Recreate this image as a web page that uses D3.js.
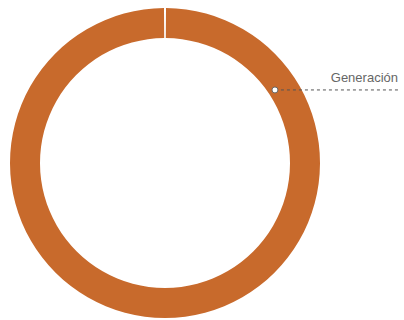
<!DOCTYPE html>
<html>
<head>
<meta charset="utf-8">
<script src="https://cdn.jsdelivr.net/npm/d3@7"></script>
<style>
  body { margin: 0; background: #fff; }
  svg { display: block; }
</style>
</head>
<body>
<svg></svg>
<script>
var width = 404, height = 320;

// data
var categories = ["Generación"];
var values = [100];
var colors = ["#c86a2c"];

var cx = 165, cy = 163;
var outerR = 155, innerR = 125;
var gap = 0.013;

var svg = d3.select("svg")
    .attr("width", width)
    .attr("height", height);

var g = svg.append("g")
    .attr("transform", "translate(" + cx + "," + cy + ")");

// leave a thin gap where the ring starts and ends
var pie = d3.pie().sort(null)
    .startAngle(gap / 2)
    .endAngle(2 * Math.PI - gap / 2);
var arc = d3.arc().innerRadius(innerR).outerRadius(outerR);

var arcs = pie(values);

g.selectAll(".slice")
    .data(arcs)
    .enter().append("path")
    .attr("class", "slice")
    .attr("d", arc)
    .attr("fill", function(d, i) { return colors[i]; });

// label with leader line
var labelAngle = 56.4 * Math.PI / 180;
var labelR = 132;
var px = Math.sin(labelAngle) * labelR;
var py = -Math.cos(labelAngle) * labelR;
var lineEnd = width - 6 - cx;

g.selectAll(".leader")
    .data(categories)
    .enter().append("line")
    .attr("class", "leader")
    .attr("x1", px)
    .attr("y1", py)
    .attr("x2", lineEnd)
    .attr("y2", py)
    .attr("stroke", "#555")
    .attr("stroke-width", 1)
    .attr("stroke-dasharray", "3,3");

g.selectAll(".dot")
    .data(categories)
    .enter().append("circle")
    .attr("class", "dot")
    .attr("cx", px)
    .attr("cy", py)
    .attr("r", 3)
    .attr("fill", "#fff")
    .attr("stroke", "#666")
    .attr("stroke-width", 1);

g.selectAll(".label")
    .data(categories)
    .enter().append("text")
    .attr("class", "label")
    .attr("x", lineEnd)
    .attr("y", py - 8)
    .attr("text-anchor", "end")
    .attr("font-family", "'Liberation Sans', Arial, sans-serif")
    .attr("font-size", 13)
    .attr("fill", "#666")
    .text(function(d) { return d; });
</script>
</body>
</html>
